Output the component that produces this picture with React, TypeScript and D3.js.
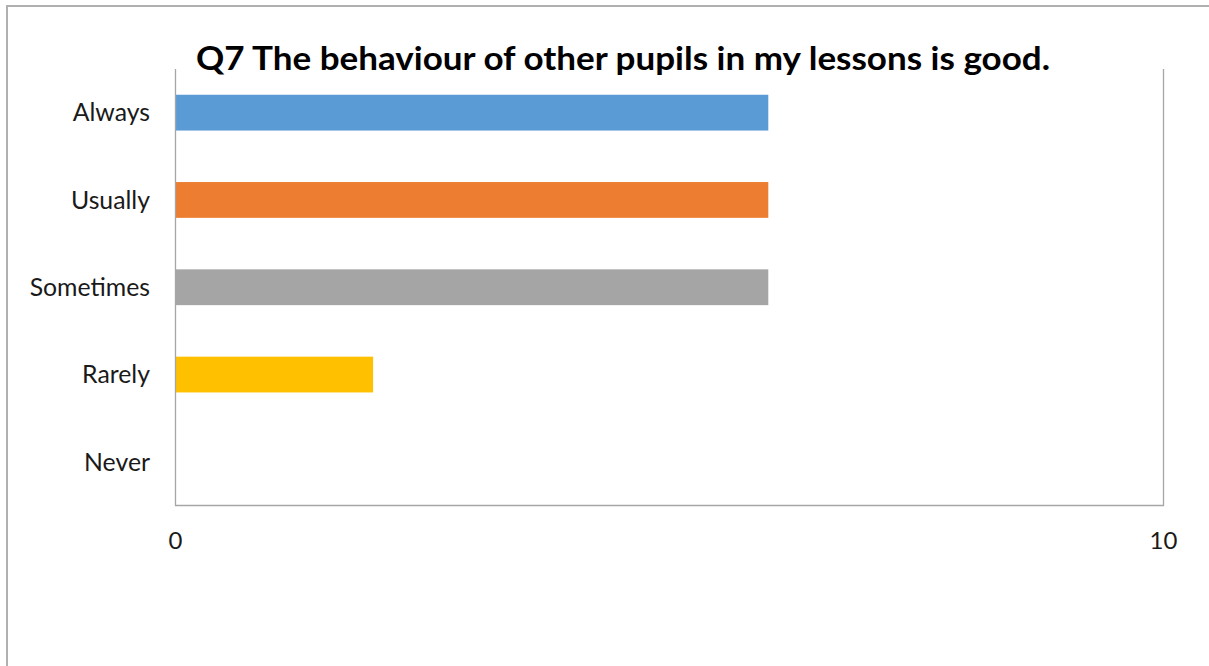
import React from "react";
import * as d3 from "d3";

const categories = ["Always", "Usually", "Sometimes", "Rarely", "Never"];
const values = [6, 6, 6, 2, 0];
const colors = ["#5b9bd5", "#ed7d31", "#a5a5a5", "#ffc000", "#4472c4"];
const xTicks = [0, 10];
const title = "Q7 The behaviour of other pupils in my lessons is good.";

export default function App() {
  const W = 1209, H = 666;
  const left = 175.5, right = 1163.5, top = 69, bottom = 505.5;
  const x = d3.scaleLinear().domain([0, 10]).range([left, right]);
  const y = d3.scaleBand().domain(categories).range([top, bottom]).paddingInner(0.59).paddingOuter(0.295);
  const font = "Lato, 'Open Sans', sans-serif";
  return (
    <svg width={W} height={H} style={{ position: "absolute", left: 0, top: 0, background: "#fff" }}>
      <rect x={7} y={6} width={W + 10} height={H + 10} fill="#fff" stroke="#b0b0b0" strokeWidth={2} />
      {categories.map((c, i) => (
        <rect key={c} x={x(0)} y={y(c)} width={x(values[i]) - x(0)} height={y.bandwidth()} fill={colors[i]} />
      ))}
      <path d={`M${left},${top}V${bottom}H${right}V${top}`} fill="none" stroke="#a6a6a6" strokeWidth={1.3} />
      {categories.map((c) => (
        <text key={c} x={150} y={(y(c) ?? 0) + y.bandwidth() / 2} dy="0.35em" textAnchor="end" fontFamily={font} fontSize={24.8} fill="#1a1a1a">{c}</text>
      ))}
      {xTicks.map((t) => (
        <text key={t} x={x(t)} y={541} dy="0.35em" textAnchor="middle" fontFamily={font} fontSize={24} fill="#1a1a1a">{t}</text>
      ))}
      <text x={623} y={70} textAnchor="middle" fontFamily={font} fontWeight="bold" fontSize={33} textLength={854} lengthAdjust="spacingAndGlyphs" fill="#000">{title}</text>
    </svg>
  );
}
